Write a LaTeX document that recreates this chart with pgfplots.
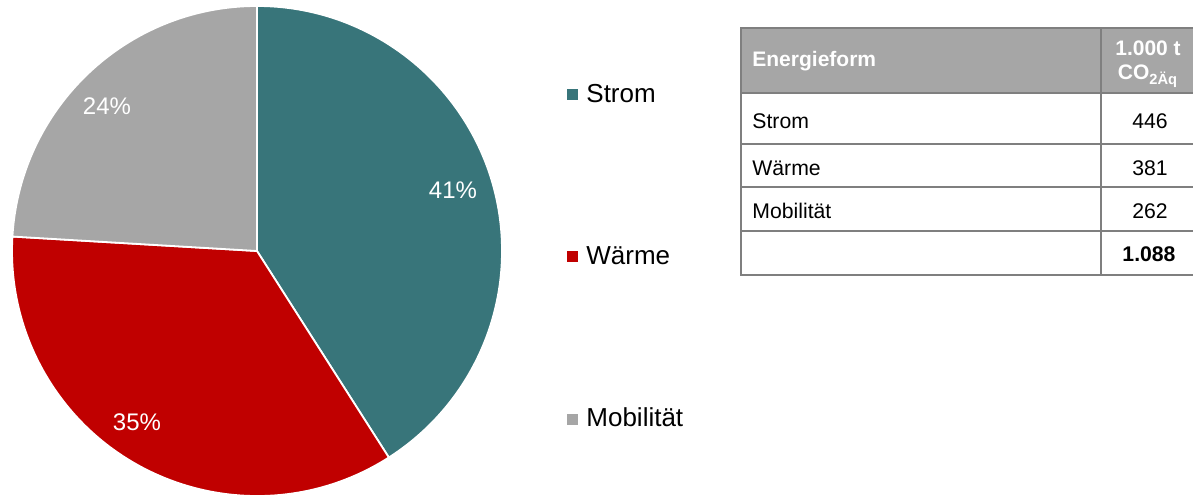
\documentclass[border=0pt]{standalone}
\usepackage{pgfplots}
\pgfplotsset{compat=1.18}
\usepackage{fontspec}
\setmainfont{Liberation Sans}
\definecolor{strom}{HTML}{38757A}
\definecolor{waerme}{HTML}{C00000}
\definecolor{mobil}{HTML}{A6A6A6}
\definecolor{tabline}{HTML}{7F7F7F}
\definecolor{tabhead}{HTML}{A6A6A6}
\begin{document}
\begin{tikzpicture}
% data: 1.000 t CO2Aq
\pgfmathsetmacro\vS{446}
\pgfmathsetmacro\vW{381}
\pgfmathsetmacro\vM{262}
\pgfmathsetmacro\tot{\vS+\vW+\vM}
\pgfmathsetmacro\fS{\vS/\tot}
\pgfmathsetmacro\fW{\vW/\tot}
\pgfmathsetmacro\aA{90}
\pgfmathsetmacro\aB{90-360*\fS}
\pgfmathsetmacro\aC{\aB-360*\fW}
\pgfmathsetmacro\aD{90-360}
\begin{axis}[
  x=0.5pt, y=0.5pt,
  xmin=0, xmax=1193, ymin=0, ymax=497,
  y dir=reverse,
  hide axis, clip=false, scale only axis,
  legend image code/.code={\fill[#1] (0pt,-2.75pt) rectangle (5.5pt,2.75pt);},
  legend cell align=left,
  legend style={at={(axis cs:567,257)}, anchor=west, draw=none, fill=none,
    inner sep=0pt, font=\fontsize{13}{15}\selectfont, row sep=68.5pt,
    nodes={inner sep=1pt},
    /tikz/every odd column/.append style={column sep=3pt}},
]
\fill[strom, draw=white, line width=0.9pt] (axis cs:257,251) -- (axis cs:{257+245*cos(\aA)},{251-245*sin(\aA)}) arc[start angle=\aA, end angle=\aB, radius=122.5pt] -- cycle;
\fill[waerme, draw=white, line width=0.9pt] (axis cs:257,251) -- (axis cs:{257+245*cos(\aB)},{251-245*sin(\aB)}) arc[start angle=\aB, end angle=\aC, radius=122.5pt] -- cycle;
\fill[mobil, draw=white, line width=0.9pt] (axis cs:257,251) -- (axis cs:{257+245*cos(\aC)},{251-245*sin(\aC)}) arc[start angle=\aC, end angle=\aD, radius=122.5pt] -- cycle;
\node[text=white, font=\fontsize{12}{14}\selectfont] at (axis cs:453,190) {41\%};
\node[text=white, font=\fontsize{12}{14}\selectfont] at (axis cs:137,422) {35\%};
\node[text=white, font=\fontsize{12}{14}\selectfont] at (axis cs:107,106) {24\%};
\addlegendimage{fill=strom, draw=none}
\addlegendentry{Strom}
\addlegendimage{fill=waerme, draw=none}
\addlegendentry{Wärme}
\addlegendimage{fill=mobil, draw=none}
\addlegendentry{Mobilität}
% table
\fill[tabhead] (axis cs:741,28) rectangle (axis cs:1197,93);
\draw[tabline, line width=1.35pt] (axis cs:741,28) rectangle (axis cs:1197,275);
\draw[tabline, line width=1.35pt] (axis cs:741,93) -- (axis cs:1197,93);
\draw[tabline, line width=1.35pt] (axis cs:741,144) -- (axis cs:1197,144);
\draw[tabline, line width=1.35pt] (axis cs:741,187) -- (axis cs:1197,187);
\draw[tabline, line width=1.35pt] (axis cs:741,231) -- (axis cs:1197,231);
\draw[tabline, line width=1.35pt] (axis cs:1101,28) -- (axis cs:1101,275);
\node[anchor=west, text=white, font=\bfseries\fontsize{10.5}{12}\selectfont, inner sep=0pt] at (axis cs:752,61) {Energieform};
\node[text=white, font=\bfseries\fontsize{10.5}{12}\selectfont, inner sep=0pt] at (axis cs:1148,48) {1.000 t};
\node[text=white, font=\bfseries\fontsize{10.5}{12}\selectfont, inner sep=0pt] at (axis cs:1148,76) {CO\textsubscript{2Äq}};
\node[anchor=west, font=\fontsize{10.6}{12}\selectfont, inner sep=0pt] at (axis cs:752,121) {Strom};
\node[anchor=west, font=\fontsize{10.6}{12}\selectfont, inner sep=0pt] at (axis cs:752,168) {Wärme};
\node[anchor=west, font=\fontsize{10.6}{12}\selectfont, inner sep=0pt] at (axis cs:752,211) {Mobilität};
\node[font=\fontsize{10.6}{12}\selectfont, inner sep=0pt] at (axis cs:1150,121) {446};
\node[font=\fontsize{10.6}{12}\selectfont, inner sep=0pt] at (axis cs:1150,168) {381};
\node[font=\fontsize{10.6}{12}\selectfont, inner sep=0pt] at (axis cs:1150,211) {262};
\node[font=\bfseries\fontsize{10.6}{12}\selectfont, inner sep=0pt] at (axis cs:1149,254) {1.088};
\end{axis}
\pgfresetboundingbox
\path (0,0) rectangle (596.5pt,248.5pt);
\end{tikzpicture}
\end{document}
